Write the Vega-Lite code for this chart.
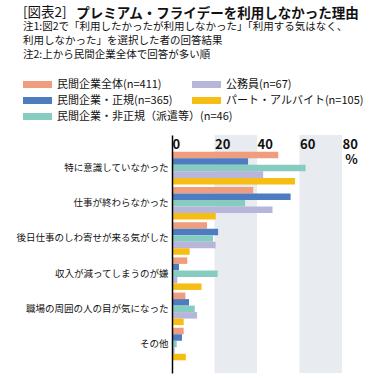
{
  "$schema": "https://vega.github.io/schema/vega-lite/v6.json",
  "width": 170,
  "height": 238,
  "autosize": {"type": "none"},
  "padding": {"left": 172, "top": 135, "right": 50, "bottom": 6},
  "background": "white",
  "config": {"view": {"stroke": null}, "font": "Noto Sans CJK JP"},
  "title": {
    "text": "[図表2]",
    "subtitle": ["注1:図2で「利用したかったが利用しなかった」「利用する気はなく、", "利用しなかった」を選択した者の回答結果", "注2:上から民間企業全体で回答が多い順"],
    "anchor": "start",
    "frame": "group",
    "dx": -149,
    "offset": -54,
    "font": "Noto Sans CJK JP",
    "fontSize": 13.5,
    "fontWeight": "normal",
    "color": "#111111",
    "subtitleFont": "Noto Sans CJK JP",
    "subtitleFontSize": 10.5,
    "subtitleColor": "#111111",
    "subtitleLineHeight": 14,
    "subtitlePadding": 2
  },
  "datasets": {
    "bands": [
      {"start": 20, "end": 40},
      {"start": 60, "end": 80}
    ],
    "reasons": [
      {"reason": "特に意識していなかった", "group": "民間企業全体(n=411)", "value": 50.0},
      {"reason": "特に意識していなかった", "group": "民間企業・正規(n=365)", "value": 35.8},
      {"reason": "特に意識していなかった", "group": "民間企業・非正規（派遣等）(n=46)", "value": 62.9},
      {"reason": "特に意識していなかった", "group": "公務員(n=67)", "value": 42.9},
      {"reason": "特に意識していなかった", "group": "パート・アルバイト(n=105)", "value": 57.9},
      {"reason": "仕事が終わらなかった", "group": "民間企業全体(n=411)", "value": 38.2},
      {"reason": "仕事が終わらなかった", "group": "民間企業・正規(n=365)", "value": 55.8},
      {"reason": "仕事が終わらなかった", "group": "民間企業・非正規（派遣等）(n=46)", "value": 34.4},
      {"reason": "仕事が終わらなかった", "group": "公務員(n=67)", "value": 47.3},
      {"reason": "仕事が終わらなかった", "group": "パート・アルバイト(n=105)", "value": 20.6},
      {"reason": "後日仕事のしわ寄せが来る気がした", "group": "民間企業全体(n=411)", "value": 16.5},
      {"reason": "後日仕事のしわ寄せが来る気がした", "group": "民間企業・正規(n=365)", "value": 21.7},
      {"reason": "後日仕事のしわ寄せが来る気がした", "group": "民間企業・非正規（派遣等）(n=46)", "value": 19.3},
      {"reason": "後日仕事のしわ寄せが来る気がした", "group": "公務員(n=67)", "value": 20.5},
      {"reason": "後日仕事のしわ寄せが来る気がした", "group": "パート・アルバイト(n=105)", "value": 8.3},
      {"reason": "収入が減ってしまうのが嫌", "group": "民間企業全体(n=411)", "value": 7.2},
      {"reason": "収入が減ってしまうのが嫌", "group": "民間企業・正規(n=365)", "value": 3.3},
      {"reason": "収入が減ってしまうのが嫌", "group": "民間企業・非正規（派遣等）(n=46)", "value": 21.5},
      {"reason": "収入が減ってしまうのが嫌", "group": "公務員(n=67)", "value": 2.5},
      {"reason": "収入が減ってしまうのが嫌", "group": "パート・アルバイト(n=105)", "value": 13.9},
      {"reason": "職場の周囲の人の目が気になった", "group": "民間企業全体(n=411)", "value": 6.3},
      {"reason": "職場の周囲の人の目が気になった", "group": "民間企業・正規(n=365)", "value": 8.0},
      {"reason": "職場の周囲の人の目が気になった", "group": "民間企業・非正規（派遣等）(n=46)", "value": 10.7},
      {"reason": "職場の周囲の人の目が気になった", "group": "公務員(n=67)", "value": 11.8},
      {"reason": "職場の周囲の人の目が気になった", "group": "パート・アルバイト(n=105)", "value": 5.5},
      {"reason": "その他", "group": "民間企業全体(n=411)", "value": 5.5},
      {"reason": "その他", "group": "民間企業・正規(n=365)", "value": 4.7},
      {"reason": "その他", "group": "民間企業・非正規（派遣等）(n=46)", "value": 2.2},
      {"reason": "その他", "group": "公務員(n=67)", "value": 1.3},
      {"reason": "その他", "group": "パート・アルバイト(n=105)", "value": 6.5}
    ]
  },
  "layer": [
    {
      "data": {"name": "bands"},
      "mark": {"type": "rect", "color": "#E8EBEF"},
      "encoding": {
        "x": {
          "field": "start",
          "type": "quantitative",
          "scale": {"domain": [0, 80], "nice": false},
          "axis": {
            "orient": "top", "title": "%", "titleX": 179, "titleY": 24, "titleAlign": "center", "titleBaseline": "middle",
            "titleFont": "Noto Sans CJK JP", "titleFontSize": 13, "titleFontWeight": "bold", "titleColor": "#111111",
            "values": [0, 20, 40, 60, 80], "labelAlign": "left", "labelBaseline": "middle", "labelPadding": -9, "labelDx": 2,
            "labelFont": "Noto Sans CJK JP", "labelFontSize": 13, "labelFontWeight": "bold", "labelColor": "#111111",
            "labelFlush": false, "labelOverlap": false, "ticks": false, "domain": false, "grid": false, "zindex": 1
          }
        },
        "x2": {"field": "end"}
      }
    },
    {
      "data": {"name": "reasons"},
      "transform": [{"filter": {"field": "group", "oneOf": ["民間企業全体(n=411)", "民間企業・正規(n=365)", "民間企業・非正規（派遣等）(n=46)"]}}],
      "mark": {"type": "bar"},
      "encoding": {
        "y": {
          "field": "reason", "type": "nominal",
          "sort": ["特に意識していなかった", "仕事が終わらなかった", "後日仕事のしわ寄せが来る気がした", "収入が減ってしまうのが嫌", "職場の周囲の人の目が気になった", "その他"],
          "scale": {"paddingInner": 0.075, "paddingOuter": 0.42, "align": 0.57},
          "axis": {
            "title": "プレミアム・フライデーを利用しなかった理由", "titleAngle": 0, "titleAlign": "center", "titleBaseline": "middle",
            "titleX": 45, "titleY": -122, "titleFont": "Noto Sans CJK JP", "titleFontSize": 13.5, "titleFontWeight": "bold",
            "titleColor": "#111111", "titleLimit": 400, "labelFont": "Noto Sans CJK JP", "labelFontSize": 9.5, "labelColor": "#111111",
            "labelPadding": 4, "labelLimit": 200, "ticks": false, "domainColor": "#000000", "domainWidth": 1.5, "grid": false, "zindex": 1
          }
        },
        "yOffset": {
          "field": "group", "type": "nominal",
          "sort": ["民間企業全体(n=411)", "民間企業・正規(n=365)", "民間企業・非正規（派遣等）(n=46)", "公務員(n=67)", "パート・アルバイト(n=105)"],
          "scale": {"domain": ["民間企業全体(n=411)", "民間企業・正規(n=365)", "民間企業・非正規（派遣等）(n=46)", "公務員(n=67)", "パート・アルバイト(n=105)"], "paddingInner": 0, "paddingOuter": 0}
        },
        "x": {
          "field": "value", "type": "quantitative",
          "scale": {"domain": [0, 80], "nice": false},
          "axis": {
            "orient": "top", "title": "%", "titleX": 179, "titleY": 24, "titleAlign": "center", "titleBaseline": "middle",
            "titleFont": "Noto Sans CJK JP", "titleFontSize": 13, "titleFontWeight": "bold", "titleColor": "#111111",
            "values": [0, 20, 40, 60, 80], "labelAlign": "left", "labelBaseline": "middle", "labelPadding": -9, "labelDx": 2,
            "labelFont": "Noto Sans CJK JP", "labelFontSize": 13, "labelFontWeight": "bold", "labelColor": "#111111",
            "labelFlush": false, "labelOverlap": false, "ticks": false, "domain": false, "grid": false, "zindex": 1
          }
        },
        "fill": {
          "field": "group", "type": "nominal",
          "scale": {
            "domain": ["民間企業全体(n=411)", "民間企業・正規(n=365)", "民間企業・非正規（派遣等）(n=46)"],
            "range": ["#F09C7E", "#4E7CC0", "#86CCC0"]
          },
          "legend": {
            "orient": "none", "legendX": -149, "legendY": -57, "title": null, "direction": "vertical",
            "clipHeight": 13, "symbolType": "M-1,-0.24H1V0.24H-1Z", "symbolSize": 841, "symbolStrokeWidth": 0, "symbolOpacity": 1,
            "labelFont": "Noto Sans CJK JP", "labelFontSize": 11, "labelColor": "#111111", "labelOffset": 5, "labelLimit": 300,
            "rowPadding": 3
          }
        }
      }
    },
    {
      "data": {"name": "reasons"},
      "transform": [{"filter": {"field": "group", "oneOf": ["公務員(n=67)", "パート・アルバイト(n=105)"]}}],
      "mark": {"type": "bar"},
      "encoding": {
        "y": {
          "field": "reason", "type": "nominal",
          "sort": ["特に意識していなかった", "仕事が終わらなかった", "後日仕事のしわ寄せが来る気がした", "収入が減ってしまうのが嫌", "職場の周囲の人の目が気になった", "その他"],
          "scale": {"paddingInner": 0.075, "paddingOuter": 0.42, "align": 0.57},
          "axis": {
            "title": "プレミアム・フライデーを利用しなかった理由", "titleAngle": 0, "titleAlign": "center", "titleBaseline": "middle",
            "titleX": 45, "titleY": -122, "titleFont": "Noto Sans CJK JP", "titleFontSize": 13.5, "titleFontWeight": "bold",
            "titleColor": "#111111", "titleLimit": 400, "labelFont": "Noto Sans CJK JP", "labelFontSize": 9.5, "labelColor": "#111111",
            "labelPadding": 4, "labelLimit": 200, "ticks": false, "domainColor": "#000000", "domainWidth": 1.5, "grid": false, "zindex": 1
          }
        },
        "yOffset": {
          "field": "group", "type": "nominal",
          "sort": ["民間企業全体(n=411)", "民間企業・正規(n=365)", "民間企業・非正規（派遣等）(n=46)", "公務員(n=67)", "パート・アルバイト(n=105)"],
          "scale": {"domain": ["民間企業全体(n=411)", "民間企業・正規(n=365)", "民間企業・非正規（派遣等）(n=46)", "公務員(n=67)", "パート・アルバイト(n=105)"], "paddingInner": 0, "paddingOuter": 0}
        },
        "x": {
          "field": "value", "type": "quantitative",
          "scale": {"domain": [0, 80], "nice": false},
          "axis": {
            "orient": "top", "title": "%", "titleX": 179, "titleY": 24, "titleAlign": "center", "titleBaseline": "middle",
            "titleFont": "Noto Sans CJK JP", "titleFontSize": 13, "titleFontWeight": "bold", "titleColor": "#111111",
            "values": [0, 20, 40, 60, 80], "labelAlign": "left", "labelBaseline": "middle", "labelPadding": -9, "labelDx": 2,
            "labelFont": "Noto Sans CJK JP", "labelFontSize": 13, "labelFontWeight": "bold", "labelColor": "#111111",
            "labelFlush": false, "labelOverlap": false, "ticks": false, "domain": false, "grid": false, "zindex": 1
          }
        },
        "color": {
          "field": "group", "type": "nominal",
          "scale": {
            "domain": ["公務員(n=67)", "パート・アルバイト(n=105)"],
            "range": ["#B8B5DA", "#F6BD14"]
          },
          "legend": {
            "orient": "none", "legendX": 20, "legendY": -57, "title": null, "direction": "vertical",
            "clipHeight": 13, "symbolType": "M-1,-0.24H1V0.24H-1Z", "symbolSize": 841, "symbolStrokeWidth": 0, "symbolOpacity": 1,
            "labelFont": "Noto Sans CJK JP", "labelFontSize": 11, "labelColor": "#111111", "labelOffset": 5, "labelLimit": 300,
            "rowPadding": 3
          }
        }
      }
    }
  ]
}
